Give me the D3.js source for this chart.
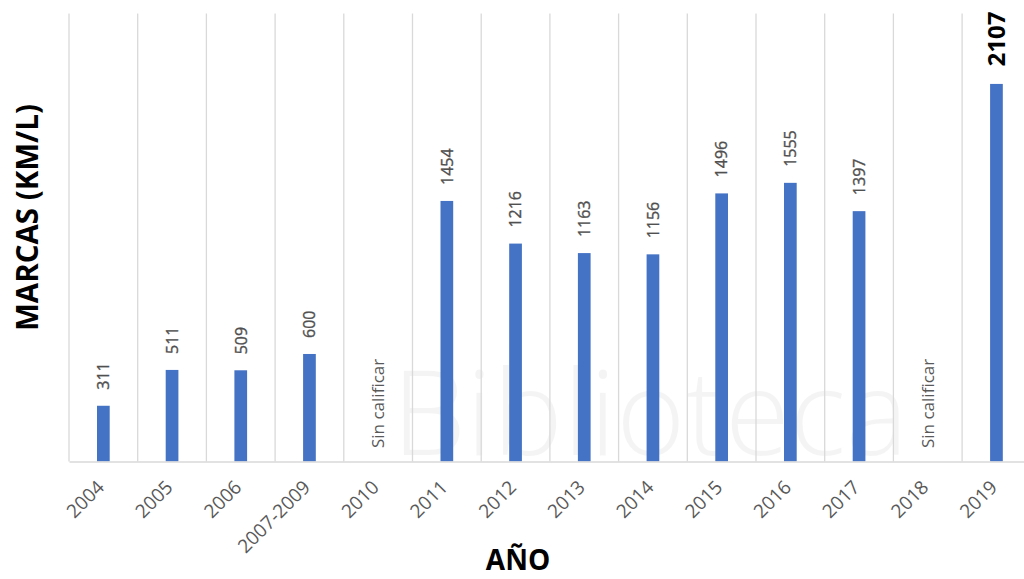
<!DOCTYPE html>
<html>
<head>
<meta charset="utf-8">
<script src="https://cdn.jsdelivr.net/npm/d3@7"></script>
<style>
  html, body { margin: 0; padding: 0; background: #ffffff; }
  svg { display: block; font-family: "Open Sans", "Noto Sans", sans-serif; }
</style>
</head>
<body>
<svg id="chart" width="1024" height="579"></svg>
<script>
// ---- data ----
const categories = ["2004", "2005", "2006", "2007-2009", "2010", "2011", "2012", "2013",
                    "2014", "2015", "2016", "2017", "2018", "2019"];
const values = [311, 511, 509, 600, null, 1454, 1216, 1163, 1156, 1496, 1555, 1397, null, 2107];
const highlightCategory = "2019";
const missingLabel = "Sin calificar";
const yTitle = "MARCAS (KM/L)";
const xTitle = "AÑO";
const yDomain = [0, 2500];

// ---- layout ----
const svg = d3.select("#chart");
const plotLeft = 69, bandStep = 68.7;
const plotRight = plotLeft + bandStep * categories.length;
const plotTop = 13.5, plotBottom = 461.5;

const x = d3.scaleBand().domain(categories).range([plotLeft, plotRight]).paddingInner(0).paddingOuter(0);
const y = d3.scaleLinear().domain(yDomain).range([plotBottom, plotTop]);

const gridColor = "#d9d9d9";
const barColor = "#4472c4";
const labelColor = "#595959";

// watermark (faint)
const wm = svg.append("g").attr("class", "watermark").attr("pointer-events", "none");
wm.append("text").attr("x", 392).attr("y", 455)
  .attr("font-size", 118).attr("font-weight", 300)
  .attr("fill", "#000").attr("fill-opacity", 0.045)
  .text("Biblioteca");

// vertical gridlines at band boundaries
const boundaries = categories.map(c => x(c)).concat([plotRight]);
svg.append("g").selectAll("line").data(boundaries).join("line")
  .attr("x1", d => d).attr("x2", d => d)
  .attr("y1", y(yDomain[1])).attr("y2", y(0))
  .attr("stroke", gridColor).attr("stroke-width", 1.3);

// bars
const data = categories.map((c, i) => ({ c, v: values[i] }));
const barW = 12.7;
svg.append("g").selectAll("rect").data(data.filter(d => d.v != null)).join("rect")
  .attr("x", d => x(d.c) + x.bandwidth() / 2 - barW / 2)
  .attr("width", barW)
  .attr("y", d => y(d.v))
  .attr("height", d => y(0) - y(d.v))
  .attr("fill", barColor);

// x axis
const xAxis = svg.append("g").attr("transform", `translate(0,${plotBottom})`)
  .call(d3.axisBottom(x).tickSize(0).tickSizeOuter(0));
xAxis.select(".domain").attr("stroke", gridColor).attr("stroke-width", 1.5);
xAxis.selectAll("text")
  .attr("x", 0).attr("y", 0).attr("dy", 0)
  .attr("transform", "translate(2,27) rotate(-45)")
  .style("text-anchor", "end")
  .attr("font-size", 19)
  .attr("font-family", "\"Open Sans\", sans-serif")
  .attr("fill", labelColor);

// value labels
svg.append("g").selectAll("text").data(data.filter(d => d.v != null)).join("text")
  .attr("transform", d => {
    const hi = d.c === highlightCategory;
    const cx = x(d.c) + x.bandwidth() / 2;
    return `translate(${cx},${y(d.v) - (hi ? 17.5 : 16)}) rotate(-90)`;
  })
  .attr("dy", "0.36em")
  .style("text-anchor", "start")
  .attr("font-size", d => d.c === highlightCategory ? 24 : 16)
  .attr("font-weight", d => d.c === highlightCategory ? 700 : 400)
  .attr("fill", d => d.c === highlightCategory ? "#000000" : "#505050")
  .attr("stroke", d => d.c === highlightCategory ? "none" : "#505050")
  .attr("stroke-width", 0.35)
  .text(d => d.v);

// missing labels
svg.append("g").selectAll("text").data(data.filter(d => d.v == null)).join("text")
  .attr("transform", d => `translate(${x(d.c) + x.bandwidth() / 2},448) rotate(-90)`)
  .attr("dy", "0.36em")
  .style("text-anchor", "start")
  .attr("font-size", 17)
  .attr("fill", labelColor)
  .text(missingLabel);

// axis titles
svg.append("text")
  .attr("transform", "translate(27,217.5) rotate(-90)")
  .attr("dy", "0.36em")
  .style("text-anchor", "middle")
  .attr("font-size", 29.5).attr("font-weight", 700).attr("fill", "#000")
  .text(yTitle);

svg.append("text")
  .attr("x", 518).attr("y", 570)
  .style("text-anchor", "middle")
  .attr("font-size", 28).attr("font-weight", 700).attr("fill", "#000")
  .text(xTitle);
</script>
</body>
</html>
